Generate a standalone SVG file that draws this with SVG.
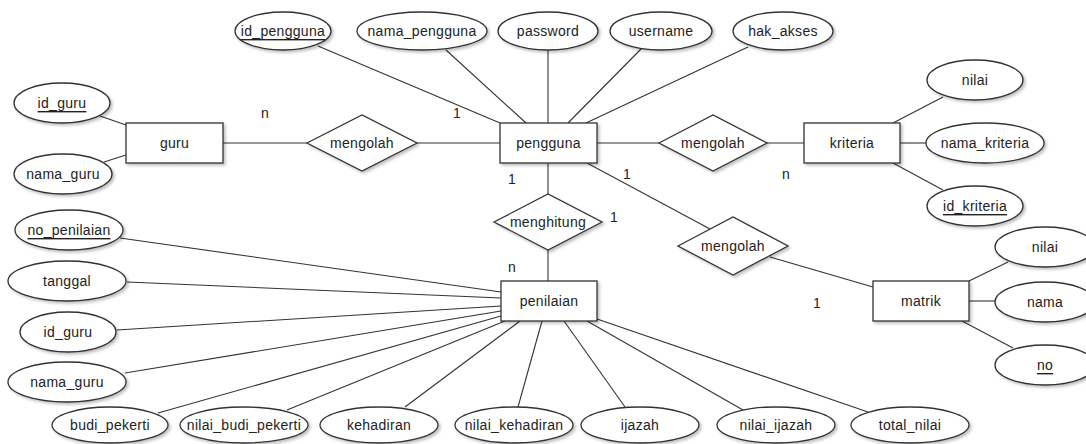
<svg xmlns="http://www.w3.org/2000/svg" width="1086" height="444" viewBox="0 0 1086 444">
<defs>
<filter id="sh" x="-20%" y="-20%" width="150%" height="160%">
<feGaussianBlur in="SourceAlpha" stdDeviation="1.5"/>
<feOffset dx="2" dy="2" result="b"/>
<feComponentTransfer><feFuncA type="linear" slope="0.25"/></feComponentTransfer>
<feMerge><feMergeNode/><feMergeNode in="SourceGraphic"/></feMerge>
</filter>
</defs>
<style>
.s{fill:#fff;stroke:#333;stroke-width:1.3;filter:url(#sh)}
.c line{stroke:#333;stroke-width:1.1}
text{font-family:"Liberation Sans",Arial,sans-serif;font-size:14px;fill:#222;text-anchor:middle;dominant-baseline:central;letter-spacing:0.3px}
.u{text-decoration:underline}
</style>
<rect width="1086" height="444" fill="#fff"/>
<g class="c" id="connectors">
<line x1="100" y1="116" x2="126" y2="125"/>
<line x1="104" y1="162" x2="126" y2="155"/>
<line x1="223" y1="143" x2="307" y2="143"/>
<line x1="417" y1="143" x2="500" y2="143"/>
<line x1="318" y1="46" x2="500" y2="123"/>
<line x1="446" y1="50" x2="526" y2="123"/>
<line x1="548" y1="50" x2="548" y2="123"/>
<line x1="641" y1="49" x2="568" y2="123"/>
<line x1="748" y1="47" x2="586" y2="123"/>
<line x1="597" y1="143" x2="659" y2="143"/>
<line x1="767" y1="143" x2="804" y2="143"/>
<line x1="943" y1="97" x2="893" y2="123"/>
<line x1="900" y1="143" x2="926" y2="143"/>
<line x1="893" y1="163" x2="943" y2="190"/>
<line x1="548" y1="163" x2="548" y2="194"/>
<line x1="548" y1="250" x2="548" y2="281"/>
<line x1="587" y1="163" x2="710" y2="229"/>
<line x1="770" y1="257" x2="873" y2="287"/>
<line x1="969" y1="281" x2="1008" y2="262"/>
<line x1="969" y1="301" x2="995" y2="301"/>
<line x1="962" y1="321" x2="1013" y2="348"/>
<line x1="120" y1="238" x2="501" y2="292"/>
<line x1="127" y1="282" x2="501" y2="298"/>
<line x1="117" y1="330" x2="501" y2="306"/>
<line x1="125" y1="373" x2="501" y2="311"/>
<line x1="158" y1="413" x2="501" y2="316"/>
<line x1="287" y1="410" x2="505" y2="321"/>
<line x1="405" y1="407" x2="520" y2="321"/>
<line x1="518" y1="407" x2="542" y2="321"/>
<line x1="625" y1="407" x2="564" y2="321"/>
<line x1="743" y1="410" x2="587" y2="321"/>
<line x1="868" y1="412" x2="597" y2="319"/>
</g>
<g id="labels">
<text x="265" y="113">n</text>
<text x="457" y="113">1</text>
<text x="627" y="174">1</text>
<text x="786" y="174">n</text>
<text x="512" y="179">1</text>
<text x="614" y="217">1</text>
<text x="512" y="267">n</text>
<text x="817" y="303">1</text>
</g>
<g id="guru"><rect class="s" x="126" y="123" width="97" height="40"/><text x="174.5" y="143">guru</text></g>
<g id="pengguna"><rect class="s" x="500" y="123" width="97" height="40"/><text x="548.5" y="143">pengguna</text></g>
<g id="kriteria"><rect class="s" x="804" y="123" width="96" height="40"/><text x="852" y="143">kriteria</text></g>
<g id="penilaian"><rect class="s" x="501" y="281" width="96" height="40"/><text x="549" y="301">penilaian</text></g>
<g id="matrik"><rect class="s" x="873" y="281" width="96" height="40"/><text x="921" y="301">matrik</text></g>
<g id="mengolah1"><polygon class="s" points="307,143 362,115 417,143 362,171"/><text x="362" y="143">mengolah</text></g>
<g id="mengolah2"><polygon class="s" points="659,143 713,115 767,143 713,171"/><text x="713" y="143">mengolah</text></g>
<g id="menghitung"><polygon class="s" points="494,222 548,194 602,222 548,250"/><text x="548" y="222">menghitung</text></g>
<g id="mengolah3"><polygon class="s" points="678,246 733,217 788,246 733,275"/><text x="733" y="246">mengolah</text></g>
<g id="a_id_pengguna"><ellipse class="s" cx="283" cy="31" rx="48" ry="19"/><text class="u" x="283" y="31">id_pengguna</text></g>
<g id="a_nama_pengguna"><ellipse class="s" cx="422" cy="31" rx="65" ry="19"/><text x="422" y="31">nama_pengguna</text></g>
<g id="a_password"><ellipse class="s" cx="548" cy="31" rx="50" ry="19"/><text x="548" y="31">password</text></g>
<g id="a_username"><ellipse class="s" cx="661" cy="31" rx="51" ry="19"/><text x="661" y="31">username</text></g>
<g id="a_hak_akses"><ellipse class="s" cx="783" cy="31" rx="50" ry="19"/><text x="783" y="31">hak_akses</text></g>
<g id="a_id_guru1"><ellipse class="s" cx="62" cy="103" rx="48" ry="20"/><text class="u" x="62" y="103">id_guru</text></g>
<g id="a_nama_guru1"><ellipse class="s" cx="63" cy="174" rx="49" ry="20"/><text x="63" y="174">nama_guru</text></g>
<g id="a_nilai_k"><ellipse class="s" cx="975" cy="80" rx="48" ry="20"/><text x="975" y="80">nilai</text></g>
<g id="a_nama_kriteria"><ellipse class="s" cx="985" cy="143" rx="59" ry="20"/><text x="985" y="143">nama_kriteria</text></g>
<g id="a_id_kriteria"><ellipse class="s" cx="975" cy="206" rx="48" ry="20"/><text class="u" x="975" y="206">id_kriteria</text></g>
<g id="a_nilai_m"><ellipse class="s" cx="1045" cy="247" rx="50" ry="20"/><text x="1045" y="247">nilai</text></g>
<g id="a_nama_m"><ellipse class="s" cx="1045" cy="302" rx="50" ry="20"/><text x="1045" y="302">nama</text></g>
<g id="a_no_m"><ellipse class="s" cx="1045" cy="365" rx="50" ry="20"/><text class="u" x="1045" y="365">no</text></g>
<g id="a_no_penilaian"><ellipse class="s" cx="69" cy="230" rx="54" ry="20"/><text class="u" x="69" y="230">no_penilaian</text></g>
<g id="a_tanggal"><ellipse class="s" cx="67" cy="281" rx="59" ry="20"/><text x="67" y="281">tanggal</text></g>
<g id="a_id_guru2"><ellipse class="s" cx="68" cy="332" rx="48" ry="20"/><text x="68" y="332">id_guru</text></g>
<g id="a_nama_guru2"><ellipse class="s" cx="67" cy="382" rx="59" ry="20"/><text x="67" y="382">nama_guru</text></g>
<g id="a_budi_pekerti"><ellipse class="s" cx="110" cy="425" rx="58" ry="18"/><text x="110" y="425">budi_pekerti</text></g>
<g id="a_nilai_budi_pekerti"><ellipse class="s" cx="244" cy="425" rx="64" ry="18"/><text x="244" y="425">nilai_budi_pekerti</text></g>
<g id="a_kehadiran"><ellipse class="s" cx="379" cy="425" rx="59" ry="18"/><text x="379" y="425">kehadiran</text></g>
<g id="a_nilai_kehadiran"><ellipse class="s" cx="514" cy="425" rx="59" ry="18"/><text x="514" y="425">nilai_kehadiran</text></g>
<g id="a_ijazah"><ellipse class="s" cx="640" cy="425" rx="59" ry="18"/><text x="640" y="425">ijazah</text></g>
<g id="a_nilai_ijazah"><ellipse class="s" cx="776" cy="425" rx="59" ry="18"/><text x="776" y="425">nilai_ijazah</text></g>
<g id="a_total_nilai"><ellipse class="s" cx="910" cy="425" rx="59" ry="18"/><text x="910" y="425">total_nilai</text></g>
</svg>
